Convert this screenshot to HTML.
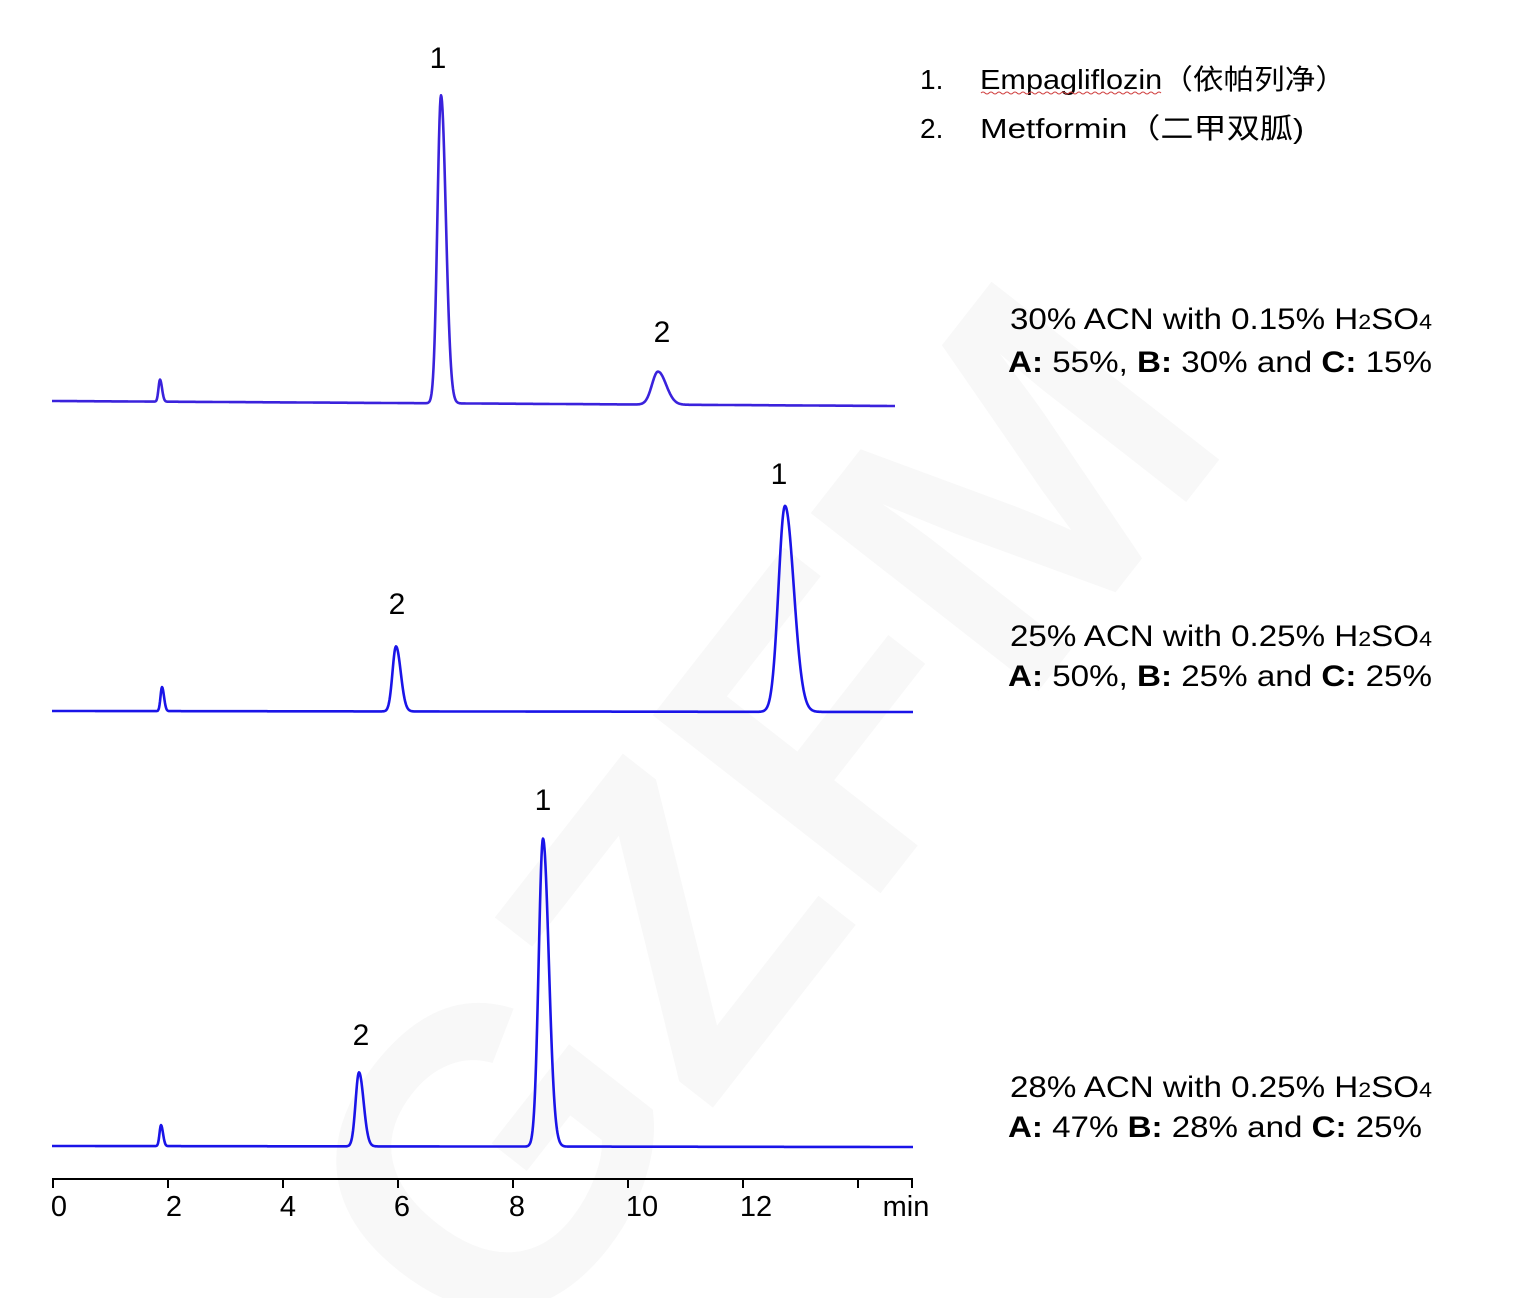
<!DOCTYPE html>
<html><head><meta charset="utf-8"><style>
body{margin:0;background:#fff;width:1517px;height:1298px;overflow:hidden;font-family:"Liberation Sans","Noto Sans CJK SC",sans-serif}
svg{display:block}
</style></head><body>
<svg id="s" width="1517" height="1298" xmlns="http://www.w3.org/2000/svg" font-family="Liberation Sans, Noto Sans CJK SC, sans-serif">
<text x="760" y="960" font-size="420" fill="#f8f8f8" transform="rotate(-52 760 820)" text-anchor="middle" font-weight="bold">GZFM</text>
<g id="tr" fill="none" stroke-width="2.6" stroke-linejoin="round"></g>
<g font-size="30" fill="#000" text-anchor="middle">
<text x="438" y="68">1</text><text x="662" y="342">2</text>
<text x="779" y="484">1</text><text x="397" y="614">2</text>
<text x="543" y="810">1</text><text x="361" y="1045">2</text>
</g>
<line x1="52" y1="1179" x2="913" y2="1179" stroke="#000" stroke-width="2"/>
<g stroke="#000" stroke-width="2" id="ticks"></g>
<g font-size="29" fill="#000" text-anchor="middle">
<text x="59" y="1216">0</text><text x="174" y="1216">2</text><text x="288" y="1216">4</text><text x="402" y="1216">6</text><text x="517" y="1216">8</text><text x="642" y="1216">10</text><text x="756" y="1216">12</text><text x="906" y="1216">min</text>
</g>
<g font-size="28" fill="#000">
<text x="920" y="89">1.</text><text x="980" y="89" textLength="366" lengthAdjust="spacingAndGlyphs">Empagliflozin（依帕列净）</text>
<text x="920" y="138">2.</text><text x="980" y="138" textLength="324" lengthAdjust="spacingAndGlyphs">Metformin（二甲双胍)</text>
</g>
<path d="M981 93 q2 -2 4 0 t4 0 t4 0 t4 0 t4 0 t4 0 t4 0 t4 0 t4 0 t4 0 t4 0 t4 0 t4 0 t4 0 t4 0 t4 0 t4 0 t4 0 t4 0 t4 0 t4 0 t4 0 t4 0 t4 0 t4 0 t4 0 t4 0 t4 0 t4 0 t4 0 t4 0 t4 0 t4 0 t4 0 t4 0 t4 0 t4 0 t4 0 t4 0 t4 0 t4 0 t4 0 t4 0 t4 0 t4 0" stroke="#d04040" fill="none" stroke-width="1"/>
<g font-size="30" fill="#000">
<text x="1010" y="329" textLength="422" lengthAdjust="spacingAndGlyphs">30% ACN with 0.15% H<tspan font-size="21">2</tspan>SO<tspan font-size="21">4</tspan></text>
<text x="1008" y="372" textLength="424" lengthAdjust="spacingAndGlyphs"><tspan font-weight="bold">A:</tspan> 55%, <tspan font-weight="bold">B:</tspan> 30% and <tspan font-weight="bold">C:</tspan> 15%</text>
<text x="1010" y="646" textLength="422" lengthAdjust="spacingAndGlyphs">25% ACN with 0.25% H<tspan font-size="21">2</tspan>SO<tspan font-size="21">4</tspan></text>
<text x="1008" y="686" textLength="424" lengthAdjust="spacingAndGlyphs"><tspan font-weight="bold">A:</tspan> 50%, <tspan font-weight="bold">B:</tspan> 25% and <tspan font-weight="bold">C:</tspan> 25%</text>
<text x="1010" y="1097" textLength="422" lengthAdjust="spacingAndGlyphs">28% ACN with 0.25% H<tspan font-size="21">2</tspan>SO<tspan font-size="21">4</tspan></text>
<text x="1008" y="1137" textLength="414" lengthAdjust="spacingAndGlyphs"><tspan font-weight="bold">A:</tspan> 47% <tspan font-weight="bold">B:</tspan> 28% and <tspan font-weight="bold">C:</tspan> 25%</text>
</g>
</svg>
<script>
var NS="http://www.w3.org/2000/svg";
function tr(x0,x1,b0,b1,peaks,col){
 var d="";
 for(var x=x0;x<=x1;x+=0.5){
  var y=b0+(b1-b0)*(x-x0)/(x1-x0);
  for(var i=0;i<peaks.length;i++){var p=peaks[i];var z=(x-p[0])/(x<p[0]?p[2]:p[2]*1.35);y-=p[1]*Math.exp(-0.5*z*z);}
  d+=(x==x0?"M":"L")+x.toFixed(1)+" "+y.toFixed(1);
 }
 var e=document.createElementNS(NS,"path");e.setAttribute("d",d);e.setAttribute("stroke",col);
 document.getElementById("tr").appendChild(e);
}
tr(52,895,401,406,[[160,22,1.5],[441,308,3.6],[658,33,6]],"#3a22dc");
tr(52,913,711,712,[[162,24,1.5],[396,65,3.5],[785,206,6.5]],"#1a14e8");
tr(52,913,1146,1147,[[161,21,1.5],[359,74,3.4],[543,308,4.3]],"#1a14e8");
var g=document.getElementById("ticks");
for(var i=0;i<=14;i+=2){var x=53+57.5*i;var l=document.createElementNS(NS,"line");l.setAttribute("x1",x);l.setAttribute("x2",x);l.setAttribute("y1",1179);l.setAttribute("y2",1188);g.appendChild(l);}
var l=document.createElementNS(NS,"line");l.setAttribute("x1",912);l.setAttribute("x2",912);l.setAttribute("y1",1179);l.setAttribute("y2",1188);g.appendChild(l);
</script>
</body></html>
